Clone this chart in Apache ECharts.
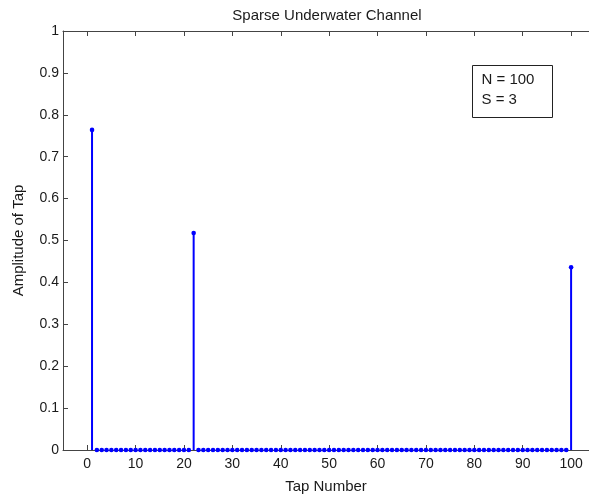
<!DOCTYPE html>
<html>
<head>
<meta charset="utf-8">
<script src="https://cdn.jsdelivr.net/npm/echarts@6/dist/echarts.min.js"></script>
<style>html,body{margin:0;padding:0;background:#fff;}#c{width:589px;height:499px;}</style>
</head>
<body>
<div id="c"></div>
<script>
// Tap numbers 1..100 and amplitudes
const tapNumbers = [1,2,3,4,5,6,7,8,9,10,11,12,13,14,15,16,17,18,19,20,21,22,23,24,25,26,27,28,29,30,31,32,33,34,35,36,37,38,39,40,41,42,43,44,45,46,47,48,49,50,51,52,53,54,55,56,57,58,59,60,61,62,63,64,65,66,67,68,69,70,71,72,73,74,75,76,77,78,79,80,81,82,83,84,85,86,87,88,89,90,91,92,93,94,95,96,97,98,99,100];
const amplitudes = [0.764,0,0,0,0,0,0,0,0,0,0,0,0,0,0,0,0,0,0,0,0,0.518,0,0,0,0,0,0,0,0,0,0,0,0,0,0,0,0,0,0,0,0,0,0,0,0,0,0,0,0,0,0,0,0,0,0,0,0,0,0,0,0,0,0,0,0,0,0,0,0,0,0,0,0,0,0,0,0,0,0,0,0,0,0,0,0,0,0,0,0,0,0,0,0,0,0,0,0,0,0.436];
const xTicks = [0,10,20,30,40,50,60,70,80,90,100];
const yTicks = [0,0.1,0.2,0.3,0.4,0.5,0.6,0.7,0.8,0.9,1];
const titleText = 'Sparse Underwater Channel';
const xName = 'Tap Number';
const yName = 'Amplitude of Tap';
const annotation = ['N = 100', 'S = 3'];

const data = tapNumbers.map((t, i) => [t, amplitudes[i]]);
const FONT = '"Liberation Sans", Arial, sans-serif';
const axisColor = '#444';
const textColor = '#1a1a1a';

const chart = echarts.init(document.getElementById('c'), null, {renderer: 'canvas'});
chart.setOption({
  animation: false,
  backgroundColor: '#fff',
  title: {
    text: titleText, left: 322, top: 3, textAlign: 'center',
    textStyle: {fontFamily: FONT, fontSize: 15, fontWeight: 'normal', color: textColor}
  },
  grid: {left: 63, top: 31, right: 0, bottom: 46, containLabel: false},
  xAxis: [{
    type: 'value', min: -5, max: 103.7,
    name: xName, nameLocation: 'middle', nameGap: 29,
    nameTextStyle: {fontFamily: FONT, fontSize: 15, color: textColor},
    axisLine: {show: true, onZero: false, lineStyle: {color: axisColor, width: 1}},
    axisTick: {show: true, inside: true, length: 5, lineStyle: {color: axisColor}, customValues: xTicks},
    axisLabel: {fontFamily: FONT, fontSize: 14, color: textColor, margin: 7, customValues: xTicks, formatter: v => String(v)},
    splitLine: {show: false}
  }, {
    type: 'value', min: -5, max: 103.7, position: 'top',
    axisLine: {show: true, onZero: false, lineStyle: {color: axisColor, width: 1}},
    axisTick: {show: true, inside: true, length: 5, lineStyle: {color: axisColor}, customValues: xTicks},
    axisLabel: {show: false},
    splitLine: {show: false}
  }],
  yAxis: {
    type: 'value', min: 0, max: 1, interval: 0.1,
    name: yName, nameLocation: 'middle', nameGap: 37, nameRotate: 90,
    nameTextStyle: {fontFamily: FONT, fontSize: 15, color: textColor},
    axisLine: {show: true, onZero: false, lineStyle: {color: axisColor, width: 1}},
    axisTick: {show: true, inside: true, length: 5, lineStyle: {color: axisColor}},
    axisLabel: {fontFamily: FONT, fontSize: 14, color: textColor, margin: 4, formatter: v => String(Math.round(v * 10) / 10)},
    splitLine: {show: false}
  },
  series: [{
    type: 'custom',
    xAxisIndex: 0,
    data: data,
    clip: false,
    z: 10,
    renderItem: function (params, api) {
      const x = api.value(0), y = api.value(1);
      const p0 = api.coord([x, 0]);
      const p1 = api.coord([x, y]);
      const children = [];
      if (y !== 0) {
        children.push({type: 'line', shape: {x1: p0[0], y1: p0[1], x2: p1[0], y2: p1[1]},
          style: {stroke: '#0000ff', lineWidth: 2}});
      }
      children.push({type: 'circle', shape: {cx: p1[0], cy: p1[1], r: 2.3},
        style: {fill: '#0000ff', stroke: null}});
      return {type: 'group', children: children};
    }
  }],
  graphic: [{
    type: 'group', left: 472, top: 65,
    children: [
      {type: 'rect', shape: {x: 0, y: 0, width: 80, height: 52}, style: {fill: '#fff', stroke: '#222', lineWidth: 1}},
      {type: 'text', x: 9, y: 14, style: {text: annotation[0], font: '15px ' + FONT, fill: textColor, verticalAlign: 'middle'}},
      {type: 'text', x: 9, y: 34, style: {text: annotation[1], font: '15px ' + FONT, fill: textColor, verticalAlign: 'middle'}}
    ]
  }]
});
</script>
</body>
</html>
